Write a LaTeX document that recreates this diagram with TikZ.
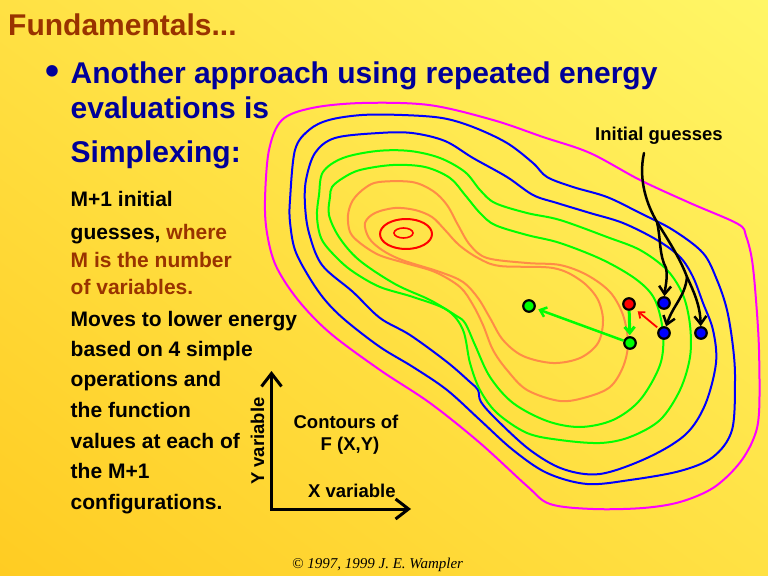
\documentclass[tikz,border=0pt]{standalone}
\usepackage{fontspec}
\setmainfont{Liberation Sans}
\newfontfamily\serifit{Liberation Serif}
\usetikzlibrary{arrows.meta,shadings}
\definecolor{titlebrown}{RGB}{153,51,0}
\definecolor{navy}{RGB}{0,0,153}
\definecolor{cmag}{RGB}{255,0,255}
\definecolor{cblue}{RGB}{0,0,255}
\definecolor{cgreen}{RGB}{0,255,0}
\definecolor{corange}{RGB}{255,140,70}
\definecolor{cred}{RGB}{255,0,0}
\definecolor{bgdark}{RGB}{255,204,34}
\definecolor{bgmid}{RGB}{255,225,68}
\definecolor{bglight}{RGB}{255,246,102}
\begin{document}
\begin{tikzpicture}[x=1bp,y=-1bp,
  contour/.style={line width=2bp, line join=round},
  big/.style={font=\bfseries\fontsize{30bp}{36bp}\selectfont, inner sep=0, anchor=base west},
  small/.style={font=\bfseries\fontsize{21bp}{25bp}\selectfont, inner sep=0, anchor=base west},
  lab/.style={font=\bfseries\fontsize{18.5bp}{22bp}\selectfont, inner sep=0},
  pt/.style={circle, draw=black, line width=2.2bp, minimum size=11.5bp, inner sep=0},
  garrow/.style={draw=cgreen, line width=2.5bp, -{Straight Barb[length=6bp,width=10bp]}},
  blk/.style={draw=black, line width=2.5bp, line cap=round, -{Straight Barb[length=8bp,width=12bp]}},
  axisline/.style={draw=black, line width=3bp, {Straight Barb[length=13bp,width=20bp]}-{Straight Barb[length=13bp,width=20bp]}}
]
\useasboundingbox (0,0) rectangle (768,576);
\shade[upper left=bgmid, upper right=bglight, lower left=bgdark, lower right=bgmid] (0,0) rectangle (768,576);

% titles
\node[big, text=titlebrown] (title) at (8,36) {Fundamentals...};
\node[font=\bfseries\fontsize{40bp}{40bp}\selectfont, inner sep=0, anchor=base west, text=navy] (bul) at (45.5,85) {•};
\node[big, text=navy] (l1) at (70.5,84) {Another approach using repeated energy};
\node[big, text=navy] (l2) at (70.5,119) {evaluations is};
\node[big, text=navy] (l3) at (70.5,163) {Simplexing:};

% left column
\node[small] (s1) at (70.5,207) {M+1 initial};
\node[small] (s2) at (70.5,239) {guesses, \textcolor{titlebrown}{where}};
\node[small, text=titlebrown] (s3) at (70.5,267) {M is the number};
\node[small, text=titlebrown] (s4) at (70.5,294.5) {of variables.};
\node[small] (s5) at (70.5,326) {Moves to lower energy};
\node[small] (s6) at (70.5,356) {based on 4 simple};
\node[small] (s7) at (70.5,386.5) {operations and};
\node[small] (s8) at (70.5,417) {the function};
\node[small] (s9) at (70.5,448) {values at each of};
\node[small] (s10) at (70.5,478.5) {the M+1};
\node[small] (s11) at (70.5,509) {configurations.};

% contours
\draw[contour, cmag] plot[smooth cycle, tension=0.55] coordinates {
(269,150) (282,120) (312,108) (362,103) (429,105) (493,120) (543,137) (590,153) (640,180) (690,203) (738,224) (746,236) (752,260) (756,300) (759,350) (759,413) (753,440) (738,465) (713,488) (680,502) (643,508) (593,509) (550,504) (527,486) (480,443) (430,403) (380,370) (330,333) (298,300) (276,266) (267,233) (265,200)};

\draw[contour, cblue] plot[smooth cycle, tension=0.55] coordinates {
(290,200) (295,150) (309,130) (329,120) (362,115) (402,115) (442,118) (473,127) (507,143) (533,163) (547,177) (573,187) (607,197) (640,213) (673,230) (703,253) (717,280) (727,310) (733,347) (735,380) (732,430) (713,457) (680,471) (630,480) (587,484) (547,473) (513,450) (480,420) (447,390) (413,367) (380,347) (345,320) (325,300) (309,277) (295,250) (290,222)};

\draw[contour, cblue] plot[smooth cycle, tension=0.55] coordinates {
(353,292) (380,318) (410,335) (447,362) (470,382) (478,390) (481,402) (497,420) (530,450) (563,469) (600,474) (647,458) (685,435) (705,405) (716,363) (713,330) (703,303) (693,277) (680,257) (657,240) (623,223) (590,213) (557,203) (533,195) (507,177) (473,158) (445,141) (412,133) (379,133) (335,138) (315,153) (306,180) (305,205) (309,233) (322,265)};

\draw[contour, cgreen] plot[smooth cycle, tension=0.55] coordinates {
(323,172) (343,158) (377,151) (410,151) (440,158) (465,172) (480,190) (495,203) (527,213) (560,220) (607,237) (640,250) (667,270) (683,295) (690,325) (690,357) (680,390) (660,420) (630,437) (600,443) (560,440) (527,433) (497,413) (480,390) (470,363) (463,330) (447,310) (413,297) (380,287) (355,273) (339,260) (322,240) (317,217) (319,195)};

\draw[contour, cgreen] plot[smooth cycle, tension=0.55] coordinates {
(332,187) (343,178) (360,170) (393,165) (425,167) (450,178) (465,195) (480,213) (495,225) (527,235) (560,243) (603,260) (637,280) (655,300) (663,333) (660,365) (640,400) (613,420) (580,427) (547,421) (513,403) (490,377) (475,345) (465,323) (455,315) (430,300) (395,284) (359,260) (339,237) (329,215) (330,197)};

\draw[contour, corange] plot[smooth cycle, tension=0.55] coordinates {
(350,232) (348,215) (353,200) (365,188) (379,182) (412,182) (433,191) (447,205) (458,225) (470,245) (487,258) (527,263) (560,265) (587,275) (610,292) (623,315) (628,343) (623,367) (610,387) (587,397) (560,401) (527,390) (507,370) (493,350) (483,325) (473,305) (460,287) (435,272) (405,263) (379,255) (360,243)};

\draw[contour, corange] plot[smooth cycle, tension=0.55] coordinates {
(365,223) (375,213) (395,208) (415,210) (432,217) (445,230) (459,245) (478,258) (500,266) (553,268) (580,280) (597,298) (603,320) (598,343) (580,358) (553,363) (523,356) (503,340) (490,318) (478,298) (463,282) (440,272) (402,260) (382,250) (369,238)};

\draw[contour, cred] (406,234) ellipse (26 and 15);
\draw[cred, line width=1.6bp] (403.5,233) ellipse (9.5 and 5);

% simplex points
\node[pt, fill=cgreen] (g1) at (529,306) {};
\node[pt, fill=cred] (rp) at (629,304) {};
\node[pt, fill=cgreen] (g2) at (630,343) {};
\node[pt, fill=cblue] (b1) at (664,303) {};
\node[pt, fill=cblue] (b2) at (664,333) {};
\node[pt, fill=cblue] (b3) at (701,333) {};

\draw[garrow, shorten >=3bp] (g2) -- (g1);
\draw[garrow, line width=3bp, shorten >=1bp] (rp) -- (g2);
\draw[draw=cred, line width=1.8bp, -{Straight Barb[length=5bp,width=8bp]}, shorten <=2bp, shorten >=4.5bp] (b2) -- (rp);

% initial guesses
\node[lab, anchor=base west] (ig) at (595,141) {Initial guesses};
\coordinate (s0) at (644,153);
\coordinate (f1) at (657,222);
\coordinate (f2) at (687,277);
\draw[blk] (s0) .. controls (638,180) and (647,205) .. (f1) .. controls (661,240) and (659,255) .. (666,268) .. controls (668,278) and (665,288) .. (b1);
\draw[blk] (f1) .. controls (668,240) and (680,258) .. (f2) .. controls (694,292) and (700,305) .. (b3);
\draw[blk] (f2) .. controls (685,297) and (673,305) .. (b2);

% axes
\coordinate (ytip) at (271.5,371);
\coordinate (orig) at (271.5,509);
\coordinate (xtip) at (411,509);
\draw[axisline] (ytip) -- (orig) -- (xtip);
\node[lab, anchor=base west, rotate=90] (yl) at (264,485) {Y variable};
\node[lab, anchor=base west] (xl) at (308,497) {X variable};
\node[lab, anchor=base] (c1) at (346,428) {Contours of};
\node[lab, anchor=base] (c2) at (350,450) {F (X,Y)};

\node[font=\serifit\itshape\fontsize{15bp}{18bp}\selectfont, anchor=base west, inner sep=0] (cp) at (292,568) {© 1997, 1999 J. E. Wampler};
\end{tikzpicture}
\end{document}
